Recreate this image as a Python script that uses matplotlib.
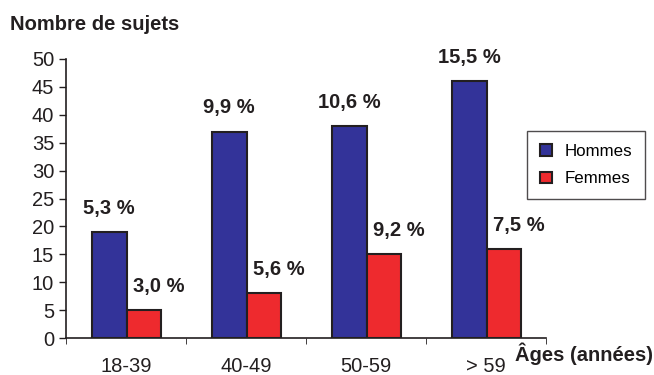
import numpy as np
import matplotlib
matplotlib.use('Agg')
import matplotlib.pyplot as plt

plt.rcParams['font.family'] = ['Liberation Sans', 'DejaVu Sans']

# data
categories = ['18-39', '40-49', '50-59', '> 59']
hommes = [19, 37, 38, 46]
femmes = [5, 8, 15, 16]
hommes_pct = ['5,3 %', '9,9 %', '10,6 %', '15,5 %']
femmes_pct = ['3,0 %', '5,6 %', '9,2 %', '7,5 %']

blue = '#333399'
red = '#ee2a2e'
edge = '#231f20'

fig = plt.figure(figsize=(6.54, 3.75), dpi=100)
ax = fig.add_axes([66/654, 1-338/375, 480/654, 279/375])

x = np.arange(len(categories))
w = 0.29
ax.bar(x - 0.14, hommes, w, color=blue, edgecolor=edge, linewidth=1.5, label='Hommes')
ax.bar(x + 0.15, femmes, w, color=red, edgecolor=edge, linewidth=1.5, label='Femmes')

# percentage labels above bars
for i in range(len(categories)):
    ax.annotate(hommes_pct[i], (x[i] - 0.14, hommes[i]), xytext=(0, 17),
                textcoords='offset points', ha='center', va='center',
                fontsize=14.5, fontweight='bold', color=edge)
    ax.annotate(femmes_pct[i], (x[i] + 0.27, femmes[i]), xytext=(0, 17),
                textcoords='offset points', ha='center', va='center',
                fontsize=14.5, fontweight='bold', color=edge)

ax.set_xlim(-0.5, 3.5)
ax.set_ylim(0, 50)
ax.set_yticks(range(0, 51, 5))
ax.set_xticks(x)
ax.set_xticklabels(categories)
ax.set_xticks(np.arange(-0.5, 3.6, 1), minor=True)
ax.tick_params(axis='x', which='major', length=0, pad=14, labelsize=14.5, colors=edge)
ax.tick_params(axis='x', which='minor', length=4, direction='out', color=edge)
ax.tick_params(axis='y', length=5, direction='out', labelsize=14.5, colors=edge, width=1)

for s in ['top', 'right']:
    ax.spines[s].set_visible(False)
ax.spines['left'].set_color(edge)
ax.spines['bottom'].set_color(edge)
ax.spines['left'].set_linewidth(1.2)
ax.spines['bottom'].set_linewidth(1.2)

leg = ax.legend(loc='upper left', bbox_to_anchor=(527/654, 1-131/375),
                bbox_transform=fig.transFigure, frameon=True, fancybox=False,
                fontsize=12.2, handlelength=0.7, handleheight=0.7, borderaxespad=0,
                borderpad=0.75, labelspacing=0.75, handletextpad=0.8)
leg.get_frame().set_edgecolor(edge)
leg.get_frame().set_linewidth(1.0)

fig.text(10/654, 1-25/375, 'Nombre de sujets', fontsize=14.5, fontweight='bold',
         ha='left', va='center', color=edge)
fig.text(653/654, 1-354/375, 'Âges (années)', fontsize=14.5, fontweight='bold',
         ha='right', va='center', color=edge)

fig.savefig('out.png', dpi=100)
